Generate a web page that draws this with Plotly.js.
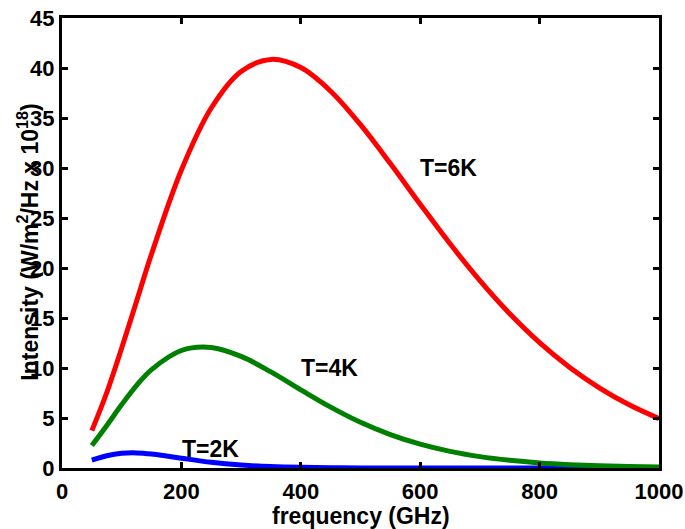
<!DOCTYPE html>
<html>
<head>
<meta charset="utf-8">
<script src="https://cdn.plot.ly/plotly-3.0.1.min.js"></script>
<style>html,body{margin:0;padding:0;background:#fff;}#chart{width:685px;height:529px;}</style>
</head>
<body>
<div id="chart"></div>
<script>
// frequency (GHz)
const freq = [50, 75, 100, 125, 150, 200, 250, 300, 350, 400, 450, 500, 550, 600, 650, 700, 750, 800, 850, 900, 950, 1000];
// Intensity (W/m^2/Hz x 10^18)
const t6K = [3.74, 7.55, 12.0, 16.7, 21.4, 29.8, 36.0, 39.65, 40.86, 40.04, 37.68, 34.33, 30.44, 26.38, 22.42, 18.74, 15.43, 12.54, 10.08, 8.02, 6.32, 4.94];
const t4K = [2.24, 4.25, 6.34, 8.26, 9.84, 11.75, 12.05, 11.16, 9.61, 7.82, 6.09, 4.57, 3.34, 2.38, 1.66, 1.14, 0.77, 0.51, 0.336, 0.219, 0.141, 0.09];
const freq2 = [50, 75, 100, 125, 150, 175, 200, 250, 300, 350, 400, 450, 500, 600, 700, 800, 900, 1000];
const t2K = [0.79, 1.23, 1.47, 1.51, 1.40, 1.20, 0.98, 0.57, 0.30, 0.142, 0.064, 0.027, 0.011, 0.002, 0.0, 0.0, 0.0, 0.0];

const xTicks = [0, 200, 400, 600, 800, 1000];
const yTicks = [0, 5, 10, 15, 20, 25, 30, 35, 40, 45];

const labels = [
  {text: 'T=6K', x: 647, y: 30.0},
  {text: 'T=4K', x: 448, y: 10.0},
  {text: 'T=2K', x: 248, y: 1.9}
];

const FAM = 'Liberation Sans, Arial, Helvetica, sans-serif';
const tickFont = {family: FAM, size: 22, color: '#000', weight: 'bold'};

const traces = [
  {x: freq2, y: t2K, mode: 'lines', line: {color: '#0000ff', width: 5, shape: 'spline', smoothing: 1}, name: 'T=2K'},
  {x: freq, y: t4K, mode: 'lines', line: {color: '#008000', width: 5, shape: 'spline', smoothing: 1}, name: 'T=4K'},
  {x: freq, y: t6K, mode: 'lines', line: {color: '#ff0000', width: 5, shape: 'spline', smoothing: 1}, name: 'T=6K'}
];

const annotations = labels.map(l => ({
  x: l.x, y: l.y, xref: 'x', yref: 'y', text: l.text, showarrow: false,
  font: {family: FAM, size: 23, color: '#000', weight: 'bold'}
}));
annotations.push({
  xref: 'paper', yref: 'paper', x: -0.056, y: 0.502, textangle: -90,
  text: 'Intensity (W/m<sup>2</sup>/Hz x 10<sup>18</sup>)', showarrow: false,
  font: {family: FAM, size: 23, color: '#000', weight: 'bold'}, xanchor: 'center', yanchor: 'middle'
});
annotations.push({
  xref: 'paper', yref: 'paper', x: 0.5, y: -0.107,
  text: 'frequency (GHz)', showarrow: false,
  font: {family: FAM, size: 23, color: '#000', weight: 'bold'}, xanchor: 'center', yanchor: 'middle'
});

const layout = {
  width: 685, height: 529,
  margin: {l: 62, r: 26, t: 18, b: 61},
  paper_bgcolor: '#fff', plot_bgcolor: '#fff',
  showlegend: false,
  font: tickFont,
  xaxis: {
    range: [0, 1000], tickvals: xTicks,
    showgrid: false, zeroline: false, showline: true, linecolor: '#000', linewidth: 3,
    mirror: 'ticks', ticks: 'inside', ticklen: 6, tickwidth: 3, tickcolor: '#000',
    tickfont: tickFont, ticklabelstandoff: 2
  },
  yaxis: {
    range: [0, 45], tickvals: yTicks,
    showgrid: false, zeroline: false, showline: true, linecolor: '#000', linewidth: 3,
    mirror: 'ticks', ticks: 'inside', ticklen: 6, tickwidth: 3, tickcolor: '#000',
    tickfont: tickFont, ticklabelstandoff: 0
  },
  annotations: annotations
};

Plotly.newPlot('chart', traces, layout, {displayModeBar: false, staticPlot: true});
</script>
</body>
</html>
